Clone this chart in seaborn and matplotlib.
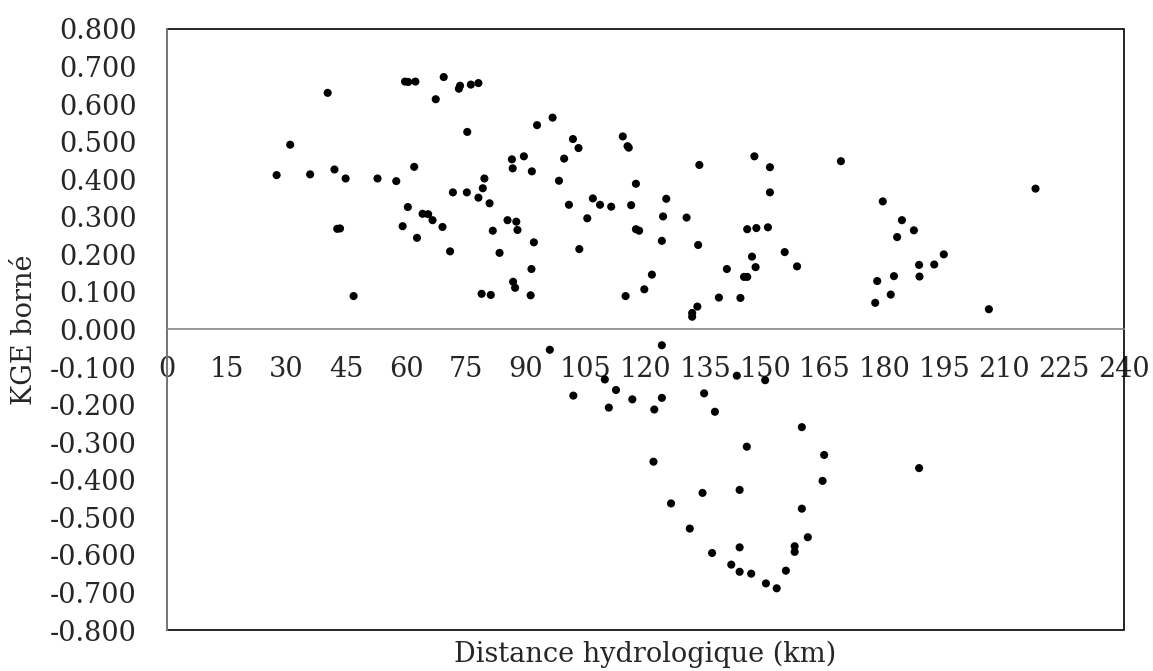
import matplotlib
matplotlib.use("Agg")
import matplotlib.pyplot as plt
import seaborn as sns
import pandas as pd
from matplotlib.patches import Rectangle
from matplotlib.ticker import FuncFormatter, MultipleLocator

# distance hydrologique (km) and bounded KGE
distance_km = [
    27.5, 30.9, 35.9, 40.3, 42.0, 44.8, 42.7, 43.4, 46.8, 52.8,
    57.5, 59.7, 60.5, 62.3, 62.0, 60.4, 59.1, 62.7, 64.1, 65.5,
    66.6, 67.4, 69.4, 69.1, 71.0, 71.7, 73.2, 73.5, 75.2, 75.3,
    76.2, 78.1, 78.1, 79.2, 79.6, 80.9, 81.7, 83.4, 78.9, 81.2,
    85.4, 87.6, 87.9, 86.5, 86.7, 89.5, 91.5, 92.0, 91.4, 86.8,
    87.3, 91.2, 92.8, 96.7, 101.8, 103.2, 99.6, 98.3, 100.8, 103.4,
    105.4, 106.8, 108.6, 111.4, 114.3, 115.5, 115.8, 117.6, 116.4, 117.6,
    118.4, 115.0, 119.7, 121.6, 124.1, 124.4, 125.2, 130.3, 133.2, 133.5,
    131.7, 131.7, 133.0, 138.4, 140.4, 143.8, 144.7, 145.5, 145.5, 147.8,
    150.7, 146.7, 147.6, 147.3, 151.2, 151.2, 154.9, 158.0, 169.0, 179.5,
    184.3, 187.3, 183.1, 178.1, 182.3, 177.6, 181.5, 188.6, 188.7, 192.4,
    194.8, 206.1, 217.8,
    96.0, 124.1, 109.8, 101.9, 112.6, 110.8, 116.7, 122.2, 124.1, 122.0,
    126.4, 131.1, 134.3, 134.7, 137.4, 136.7, 142.9, 150.0, 143.6, 145.4,
    143.6, 141.5, 143.6, 146.5, 150.2, 152.9, 155.2, 157.4, 157.4, 160.7,
    159.2, 159.2, 164.8, 164.4, 188.6,
]
kge_borne = [
    0.411, 0.492, 0.413, 0.630, 0.426, 0.402, 0.268, 0.269, 0.089, 0.402,
    0.395, 0.660, 0.659, 0.660, 0.433, 0.326, 0.275, 0.244, 0.308, 0.307,
    0.291, 0.613, 0.672, 0.273, 0.208, 0.365, 0.641, 0.649, 0.365, 0.526,
    0.652, 0.656, 0.351, 0.376, 0.402, 0.336, 0.263, 0.204, 0.095, 0.092,
    0.291, 0.287, 0.265, 0.453, 0.429, 0.461, 0.421, 0.232, 0.161, 0.127,
    0.111, 0.091, 0.544, 0.564, 0.507, 0.483, 0.455, 0.396, 0.332, 0.214,
    0.296, 0.349, 0.332, 0.327, 0.514, 0.488, 0.484, 0.388, 0.331, 0.267,
    0.263, 0.089, 0.107, 0.146, 0.236, 0.301, 0.348, 0.298, 0.225, 0.438,
    0.044, 0.034, 0.061, 0.085, 0.161, 0.084, 0.140, 0.140, 0.267, 0.270,
    0.272, 0.194, 0.166, 0.461, 0.432, 0.365, 0.206, 0.168, 0.448, 0.341,
    0.291, 0.264, 0.246, 0.129, 0.142, 0.071, 0.093, 0.172, 0.141, 0.173,
    0.200, 0.054, 0.375,
    -0.054, -0.042, -0.133, -0.176, -0.161, -0.208, -0.186, -0.213, -0.182, -0.352,
    -0.463, -0.530, -0.435, -0.170, -0.219, -0.595, -0.123, -0.135, -0.427, -0.312,
    -0.580, -0.626, -0.645, -0.650, -0.676, -0.689, -0.642, -0.577, -0.592, -0.553,
    -0.477, -0.260, -0.334, -0.403, -0.369,
]

x_ticks = list(range(0, 241, 15))

df = pd.DataFrame({"distance": distance_km, "kge": kge_borne})

sns.set_style("white")
plt.rcParams["font.family"] = ["DejaVu Serif"]

fig = plt.figure(figsize=(11.53, 6.71), dpi=100)
ax = fig.add_axes([0.1448, 0.0611, 0.8301, 0.8957])

sns.scatterplot(data=df, x="distance", y="kge", ax=ax, s=34, color="black",
                edgecolor="none", zorder=5, clip_on=False)

ax.set_xlim(0, 240)
ax.set_ylim(-0.8, 0.8)
ax.set_xticks(x_ticks)
ax.yaxis.set_major_locator(MultipleLocator(0.1))
ax.yaxis.set_major_formatter(FuncFormatter(lambda v, p: f"{v:.3f}".replace("-0.000", "0.000")))

# x axis crosses at y = 0, plot area framed in black
for side in ["top", "right"]:
    ax.spines[side].set_visible(False)
ax.spines["bottom"].set_position(("data", 0))
ax.spines["bottom"].set_color("#868686")
ax.spines["left"].set_color("#868686")
ax.spines["bottom"].set_linewidth(1.2)
ax.spines["left"].set_linewidth(1.2)
ax.add_patch(Rectangle((0, 0), 1, 1, transform=ax.transAxes, fill=False,
                       edgecolor="black", linewidth=1.2, clip_on=False, zorder=1))

ax.tick_params(axis="x", direction="out", length=7, width=1, color="#868686",
               pad=12, labelsize=19.5)
ax.tick_params(axis="y", direction="out", length=7, width=1, color="#868686",
               pad=15, labelsize=19.5)

ax.set_xlabel("Distance hydrologique (km)", fontsize=19.5)
ax.set_ylabel("KGE borné", fontsize=19.5)
ax.xaxis.set_label_coords(0.5, -0.017)
ax.yaxis.set_label_coords(-0.135, 0.5)

fig.savefig("out.png", dpi=100)
